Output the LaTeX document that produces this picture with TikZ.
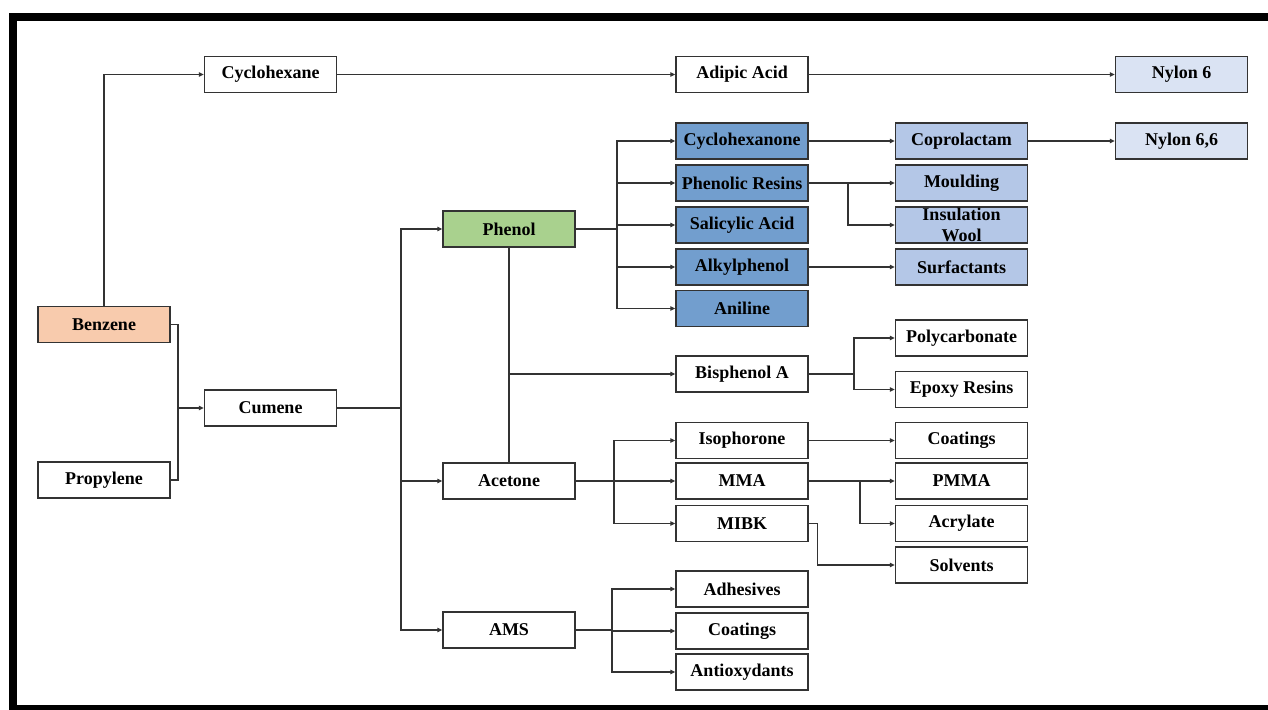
\documentclass[tikz,border=0pt]{standalone}
\usepackage{fontspec}
\setmainfont{Liberation Serif}
\usetikzlibrary{arrows.meta}

\definecolor{peach}{HTML}{F8CBAD}
\definecolor{leaf}{HTML}{A9D18E}
\definecolor{deepblue}{HTML}{729ECE}
\definecolor{midblue}{HTML}{B4C7E7}
\definecolor{paleblue}{HTML}{DAE3F3}
\definecolor{edge}{HTML}{333333}

\tikzset{
  box/.style={draw=edge, line width=1.4pt, minimum width=132pt, minimum height=36pt,
    inner sep=0pt, align=center, font=\bfseries\fontsize{18}{21}\selectfont},
  link/.style={draw=edge, line width=1.3pt},
  arr/.style={link, -{Triangle[length=5pt,width=4.5pt]}},
}

\begin{document}
\begin{tikzpicture}[x=1pt,y=-1pt]
\useasboundingbox (0,0) rectangle (1268,709);
\clip (0,0) rectangle (1268,709);

% outer frame (runs off the right and bottom edges)
\draw[line width=7.5pt] (1290,17) -- (13,17) -- (13,708.5) -- (1290,708.5);

% first column
\node[box, fill=peach] (benzene)   at (104,324.5) {Benzene};
\node[box]             (propylene) at (104,480)   {Propylene};
\node[box]             (cyhex)     at (270.5,74.5) {Cyclohexane};
\node[box]             (cumene)    at (270.5,408)  {Cumene};

% second column
\node[box, fill=leaf] (phenol)  at (509,229)   {Phenol};
\node[box]            (acetone) at (509,481)   {Acetone};
\node[box]            (ams)     at (509,630)   {AMS};

% third column
\node[box]                 (adipic)        at (742,74.5) {Adipic Acid};
\node[box, fill=deepblue]  (cyclohexanone) at (742,141)  {Cyclohexanone};
\node[box, fill=deepblue]  (phenolic)      at (742,183)  {Phenolic Resins};
\node[box, fill=deepblue]  (salicylic)     at (742,225)  {Salicylic Acid};
\node[box, fill=deepblue]  (alkyl)         at (742,267)  {Alkylphenol};
\node[box, fill=deepblue]  (aniline)       at (742,308.5){Aniline};
\node[box]                 (bisphenol)     at (742,374)  {Bisphenol A};
\node[box]                 (isophorone)    at (742,440.5){Isophorone};
\node[box]                 (mma)           at (742,481)  {MMA};
\node[box]                 (mibk)          at (742,523.5){MIBK};
\node[box]                 (adhesives)     at (742,589)  {Adhesives};
\node[box]                 (coatingsB)     at (742,631)  {Coatings};
\node[box]                 (antiox)        at (742,672)  {Antioxydants};

% fourth column
\node[box, fill=midblue] (coprolactam)  at (961.5,141) {Coprolactam};
\node[box, fill=midblue] (moulding)     at (961.5,183) {Moulding};
\node[box, fill=midblue] (insulation)   at (961.5,225) {Insulation\\Wool};
\node[box, fill=midblue] (surfactants)  at (961.5,267) {Surfactants};
\node[box] (polycarbonate) at (961.5,338)   {Polycarbonate};
\node[box] (epoxy)         at (961.5,389.5) {Epoxy Resins};
\node[box] (coatingsA)     at (961.5,440.5) {Coatings};
\node[box] (pmma)          at (961.5,481)   {PMMA};
\node[box] (acrylate)      at (961.5,523.5) {Acrylate};
\node[box] (solvents)      at (961.5,565)   {Solvents};

% fifth column
\node[box, fill=paleblue] (nylon6)  at (1181.5,74.5) {Nylon 6};
\node[box, fill=paleblue] (nylon66) at (1181.5,141)  {Nylon 6,6};

% junction points
\coordinate (jbc)  at (178,408);
\coordinate (jc)   at (401,408);
\coordinate (jp)   at (617,229);
\coordinate (jbis) at (509,374);
\coordinate (jpr)  at (848,183);
\coordinate (jbp)  at (854,374);
\coordinate (jac)  at (614,481);
\coordinate (jm)   at (860,481);
\coordinate (jams) at (612,630);

% benzene route
\draw[arr] (benzene.north) |- (cyhex.west);
\draw[arr] (cyhex) -- (adipic);
\draw[arr] (adipic) -- (nylon6);

% cumene feed
\draw[link] (benzene.east) -| (jbc);
\draw[link] (propylene.east) -| (jbc);
\draw[arr] (jbc) -- (cumene.west);

% cumene products
\draw[link] (cumene.east) -- (jc);
\draw[arr] (jc) |- (phenol.west);
\draw[arr] (jc) |- (acetone.west);
\draw[arr] (jc) |- (ams.west);

% phenol derivatives
\draw[link] (phenol.east) -- (jp);
\draw[arr] (jp) |- (cyclohexanone.west);
\draw[arr] (jp) |- (phenolic.west);
\draw[arr] (jp) |- (salicylic.west);
\draw[arr] (jp) |- (alkyl.west);
\draw[arr] (jp) |- (aniline.west);
\draw[arr] (cyclohexanone) -- (coprolactam);
\draw[arr] (coprolactam) -- (nylon66);
\draw[arr] (phenolic) -- (moulding);
\draw[arr] (jpr) |- (insulation.west);
\draw[arr] (alkyl) -- (surfactants);

% bisphenol A from phenol and acetone
\draw[link] (phenol.south) -- (acetone.north);
\draw[arr] (jbis) -- (bisphenol.west);
\draw[link] (bisphenol.east) -- (jbp);
\draw[arr] (jbp) |- (polycarbonate.west);
\draw[arr] (jbp) |- (epoxy.west);

% acetone derivatives
\draw[link] (acetone.east) -- (jac);
\draw[arr] (jac) |- (isophorone.west);
\draw[arr] (jac) -- (mma.west);
\draw[arr] (jac) |- (mibk.west);
\draw[arr] (isophorone) -- (coatingsA);
\draw[arr] (mma) -- (pmma);
\draw[arr] (jm) |- (acrylate.west);
\draw[arr] (mibk.east) -- ++(9,0) |- (solvents.west);

% AMS derivatives
\draw[link] (ams.east) -- (jams);
\draw[arr] (jams) |- (adhesives.west);
\draw[arr] (jams) |- (coatingsB.west);
\draw[arr] (jams) |- (antiox.west);
\end{tikzpicture}
\end{document}
